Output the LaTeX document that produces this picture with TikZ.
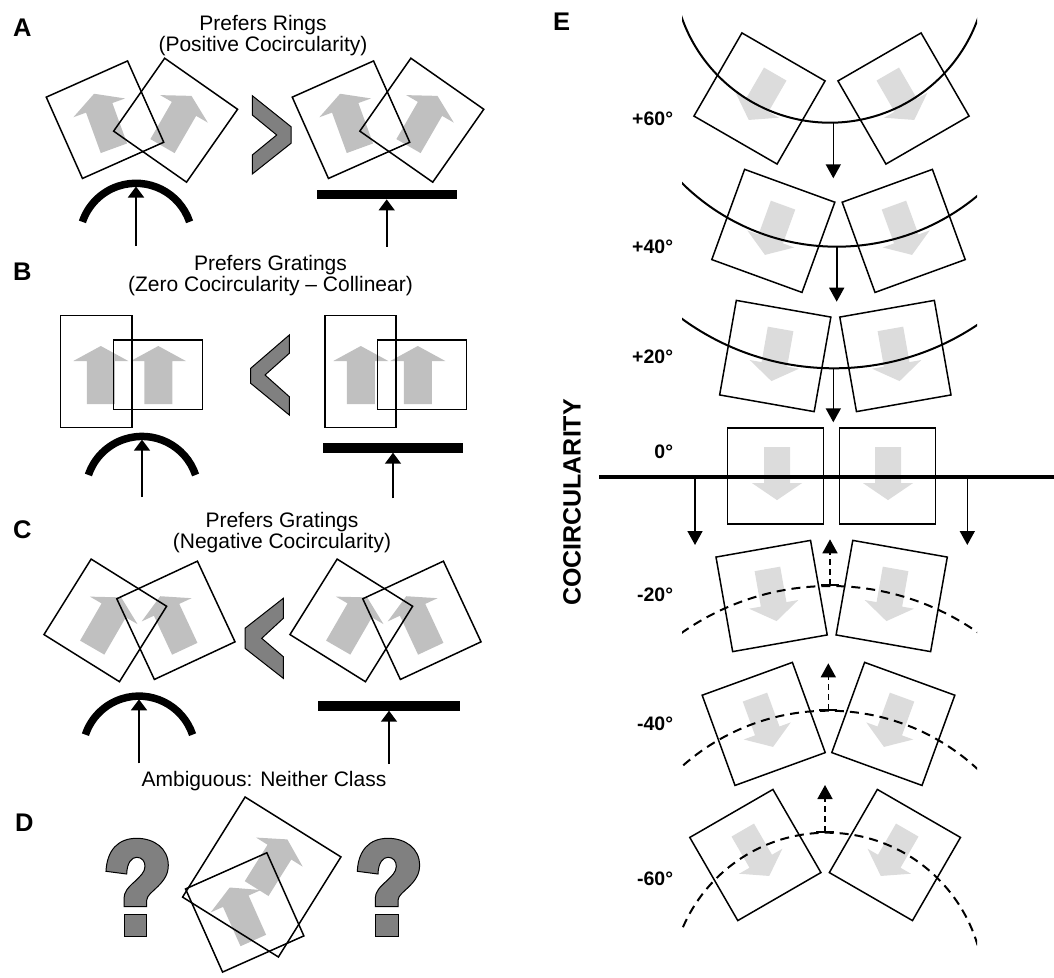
\documentclass[tikz,border=0pt]{standalone}
\usepackage{fontspec}
\setmainfont{Liberation Sans}
\usetikzlibrary{arrows.meta}
\definecolor{agray}{HTML}{C0C0C0}
\definecolor{egray}{HTML}{DCDCDC}
\definecolor{chevgray}{HTML}{808080}
\tikzset{
  upgray/.pic={\fill[agray] (-14,29) -- (-14,-14) -- (-27.5,-14) -- (0,-29) -- (27.5,-14) -- (14,-14) -- (14,29) -- cycle;},
  downgray/.pic={\fill[egray] (-13,-26.5) -- (-13,9.5) -- (-25,9.5) -- (0,26.5) -- (25,9.5) -- (13,9.5) -- (13,-26.5) -- cycle;},
  qmark/.pic={
    \filldraw[fill=chevgray,draw=black,line width=1pt,line join=miter] (0,33) -- (20.7,35.7) .. controls (21,24) and (26,19) .. (30.7,19) .. controls (36,19) and (39,23) .. (39,28) .. controls (39,34) and (34,38) .. (29,43) .. controls (22,49) and (18,54) .. (18,60) -- (18,68.3) -- (40.7,68.3) -- (40.7,62) .. controls (41,57) and (46,54) .. (52,48) .. controls (58,42) and (62.3,36) .. (62.3,27) .. controls (62.3,10) and (48,0) .. (30.7,0) .. controls (12,0) and (1,12) .. (0,33) -- cycle;
    \filldraw[fill=chevgray,draw=black,line width=1pt] (18,75.7) rectangle (40.7,98.3);}
}
\begin{document}
\begin{tikzpicture}[x=1pt,y=-1pt,
  sq/.style={draw=black,line width=1.5pt,inner sep=0pt,outer sep=0pt,minimum size=89pt},
  esq/.style={draw=black,line width=1.5pt,inner sep=0pt,outer sep=0pt,minimum size=96pt},
  lab/.style={font=\fontsize{25.5}{25.5}\selectfont\bfseries,anchor=base west,inner sep=0pt},
  ttl/.style={font=\fontsize{21}{21}\selectfont,anchor=base,inner sep=0pt},
  deg/.style={font=\fontsize{19.5}{19.5}\selectfont\bfseries,anchor=base east,inner sep=0pt},
  chev/.style={fill=chevgray,draw=black,line width=1pt,line join=miter},
  ring/.style={line width=7.5pt},
  barnode/.style={fill=black,inner sep=0pt,outer sep=0pt,minimum width=140pt,minimum height=9.5pt},
  thinarr/.style={line width=1.6pt,-{Triangle[width=16pt,length=11pt]}},
  earr/.style={line width=1.6pt,-{Triangle[width=15pt,length=14pt]}},
  darr/.style={line width=1.6pt,dash pattern=on 6pt off 4pt,{Bar[width=18pt,line width=1.6pt]}-{Triangle[width=15pt,length=14pt]}},
  earc/.style={line width=2pt},
  dearc/.style={line width=2pt,dash pattern=on 9pt off 6pt},
]
\useasboundingbox (0,0) rectangle (1054,977);

% ---------------- labels ----------------
\node[lab] (la) at (13,36.7) {A};
\node[lab] (lb) at (13,280) {B};
\node[lab] (lc) at (13,538) {C};
\node[lab] (ld) at (15,831.7) {D};
\node[lab] (le) at (553,30) {E};

% ---------------- titles ----------------
\node[ttl] (ta1) at (263,30) {Prefers Rings};
\node[ttl] (ta2) at (263,51.5) {(Positive Cocircularity)};
\node[ttl] (tb1) at (270.5,270) {Prefers Gratings};
\node[ttl] (tb2) at (270.5,291.5) {(Zero Cocircularity – Collinear)};
\node[ttl] (tc1) at (282,527) {Prefers Gratings};
\node[ttl] (tc2) at (282,548) {(Negative Cocircularity)};
\node[ttl] (td) at (264,786) {Ambiguous: Neither Class};

% ---------------- panel A ----------------
\pic[rotate=20] at (104,121) {upgray};
\pic[rotate=-30] at (177,121) {upgray};
\pic[rotate=20] at (350,121) {upgray};
\pic[rotate=-30] at (423,121) {upgray};
\node[sq,rotate=24] (a1) at (105,119.7) {};
\node[sq,rotate=-35] (a2) at (175.6,120.2) {};
\node[sq,rotate=24] (a3) at (351,119.7) {};
\node[sq,rotate=-35] (a4) at (421.8,120.2) {};
\draw[chev] (252.3,95.7) -- (291,126.7) -- (291,143.3) -- (252.3,174) -- (252.3,155) -- (276.7,135) -- (252.3,115) -- cycle;
\draw[ring] ([shift={(18.5:56.5pt)}]136,239.8) arc[start angle=18.5,end angle=161.5,radius=56.5pt];
\coordinate (ra) at (136,186.5);
\coordinate (sa1) at (136,246);
\draw[thinarr] (sa1) -- (ra);
\node[barnode] (bara) at (386.7,194.65) {};
\coordinate (sa2) at (386.7,246.7);
\draw[thinarr] (sa2) -- (bara.south);

% ---------------- panel B ----------------
\pic at (100.8,375) {upgray};
\pic at (158.3,375) {upgray};
\pic at (360.8,375) {upgray};
\pic at (417.8,375) {upgray};
\node[sq,minimum width=71.3pt,minimum height=112pt] (b1) at (96.35,371.7) {};
\node[sq,minimum width=89pt,minimum height=69.3pt] (b2) at (157.8,374.65) {};
\node[sq,minimum width=71.3pt,minimum height=112pt] (b3) at (360.5,371.7) {};
\node[sq,minimum width=89pt,minimum height=69.3pt] (b4) at (422.2,374.65) {};
\draw[chev] (289.3,335) -- (250.7,368.3) -- (250.7,383.3) -- (289.3,415) -- (289.3,396.7) -- (265,375) -- (289.3,353.3) -- cycle;
\draw[ring] ([shift={(18.5:56.5pt)}]142,492.9) arc[start angle=18.5,end angle=161.5,radius=56.5pt];
\coordinate (rb) at (142,439.6);
\coordinate (sb1) at (142,497);
\draw[thinarr] (sb1) -- (rb);
\node[barnode,minimum width=140.6pt,minimum height=10pt] (barb) at (393,447.7) {};
\coordinate (sb2) at (393,498.3);
\draw[thinarr] (sb2) -- (barb.south);

% ---------------- panel C ----------------
\pic[rotate=-30] at (106.7,622.5) {upgray};
\pic[rotate=25] at (172.5,622.5) {upgray};
\pic[rotate=-30] at (352.7,622.5) {upgray};
\pic[rotate=25] at (418.5,622.5) {upgray};
\node[sq,rotate=-32] (c1) at (105.3,620.4) {};
\node[sq,rotate=25] (c2) at (175.9,620.3) {};
\node[sq,rotate=-32] (c3) at (351.3,620.4) {};
\node[sq,rotate=25] (c4) at (421.9,620.3) {};
\draw[chev] (283.3,598.3) -- (245,628.3) -- (245,648.3) -- (283.3,678.3) -- (283.3,656.7) -- (261.7,638.3) -- (283.3,618.3) -- cycle;
\draw[ring] ([shift={(18.5:56.5pt)}]139,752.6) arc[start angle=18.5,end angle=161.5,radius=56.5pt];
\coordinate (rc) at (139,699.3);
\coordinate (sc1) at (139,763.3);
\draw[thinarr] (sc1) -- (rc);
\node[barnode,minimum width=141.4pt,minimum height=10pt] (barc) at (389,705.7) {};
\coordinate (sc2) at (389,764);
\draw[thinarr] (sc2) -- (barc.south);

% ---------------- panel D ----------------
\pic at (106,838.3) {qmark};
\pic at (357.3,838.3) {qmark};
\pic[rotate=-32] at (272,864) {upgray};
\pic[rotate=24] at (241.5,914) {upgray};
\node[sq,rotate=-32,minimum width=113pt,minimum height=118pt] (d1) at (261.75,877) {};
\node[sq,rotate=24,minimum width=89pt,minimum height=91pt] (d2) at (244.7,912.4) {};

% ---------------- panel E ----------------
\node[font=\fontsize{25}{25}\selectfont\bfseries,rotate=90,inner sep=0pt] (coc) at (572,502.5) {COCIRCULARITY};
\node[deg] (g60) at (673.3,125) {+60°};
\node[deg] (g40) at (673.3,253.5) {+40°};
\node[deg] (g20) at (673.3,363.3) {+20°};
\node[deg] (g0) at (673.3,458) {0°};
\node[deg] (gm20) at (673.3,601.7) {-20°};
\node[deg] (gm40) at (673.3,730) {-40°};
\node[deg] (gm60) at (673.3,885) {-60°};

% gray arrows
\pic[rotate=-30] at (762,97) {downgray};
\pic[rotate=30] at (901,97) {downgray};
\pic[rotate=-20] at (774,230) {downgray};
\pic[rotate=20] at (903,230) {downgray};
\pic[rotate=-10] at (776,355) {downgray};
\pic[rotate=10] at (895,355) {downgray};
\pic at (777,473.6) {downgray};
\pic at (888,473.6) {downgray};
\pic[rotate=10] at (772,595) {downgray};
\pic[rotate=-10] at (891,595) {downgray};
\pic[rotate=20] at (764,722) {downgray};
\pic[rotate=-20] at (893,722) {downgray};
\pic[rotate=30] at (756,853) {downgray};
\pic[rotate=-30] at (894,853) {downgray};

% squares
\node[esq,rotate=-30] (e1l) at (759.5,98.5) {};
\node[esq,rotate=30] (e1r) at (903.5,98.5) {};
\node[esq,rotate=-20] (e2l) at (773.3,230.9) {};
\node[esq,rotate=20] (e2r) at (903.7,230.9) {};
\node[esq,rotate=-10] (e3l) at (775.25,356) {};
\node[esq,rotate=10] (e3r) at (895.4,356) {};
\node[esq] (e4l) at (775.3,476.2) {};
\node[esq] (e4r) at (887.5,476.2) {};
\node[esq,rotate=10] (e5l) at (771.6,596) {};
\node[esq,rotate=-10] (e5r) at (891.7,596) {};
\node[esq,rotate=20] (e6l) at (763.7,723.9) {};
\node[esq,rotate=-20] (e6r) at (893.3,723.9) {};
\node[esq,rotate=30] (e7l) at (755.35,855) {};
\node[esq,rotate=-30] (e7r) at (894.9,855) {};

% arcs
\begin{scope}
\clip (682,0) rectangle (977,977);
\draw[earc] (830,-34.3) circle[radius=157pt];
\draw[earc] (836.7,26.7) circle[radius=220pt];
\draw[earc] (834,110.3) circle[radius=258pt];
\draw[dearc] (830,844) circle[radius=258pt];
\draw[dearc] (828.3,930.7) circle[radius=220pt];
\draw[dearc] (827,989.7) circle[radius=157pt];
\end{scope}

% zero line
\coordinate (zl) at (599,476.7);
\coordinate (zr) at (1054,476.7);
\draw[line width=4pt] (zl) -- (zr);

% arrows
\coordinate (p60a) at (833.3,122.7);
\coordinate (p60b) at (833.3,178.3);
\draw[earr] (p60a) -- (p60b);
\coordinate (p40a) at (836.7,246.7);
\coordinate (p40b) at (836.7,301.7);
\draw[earr] (p40a) -- (p40b);
\coordinate (p20a) at (833.3,368.3);
\coordinate (p20b) at (833.3,422.3);
\draw[earr] (p20a) -- (p20b);
\coordinate (z1a) at (695,476.7);
\coordinate (z1b) at (695,545);
\draw[earr] (z1a) -- (z1b);
\coordinate (z2a) at (967.3,476.7);
\coordinate (z2b) at (967.3,545);
\draw[earr] (z2a) -- (z2b);
\coordinate (m20a) at (830,586);
\coordinate (m20b) at (830,539.3);
\draw[darr] (m20a) -- (m20b);
\coordinate (m40a) at (828.3,710.7);
\coordinate (m40b) at (828.3,663.3);
\draw[darr] (m40a) -- (m40b);
\coordinate (m60a) at (825,832.7);
\coordinate (m60b) at (825,785);
\draw[darr] (m60a) -- (m60b);
\end{tikzpicture}
\end{document}
